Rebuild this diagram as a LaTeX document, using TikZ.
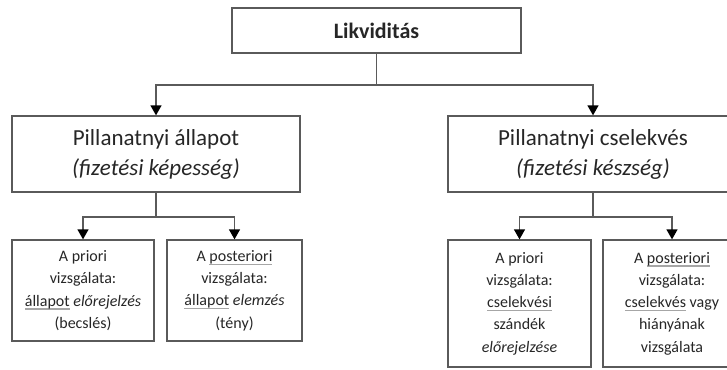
\documentclass[tikz,border=0pt]{standalone}
\usepackage{fontspec}
\setmainfont{Carlito}
\usepackage{xcolor}
\usepackage{tikz}
\usetikzlibrary{arrows.meta}
\definecolor{boxgray}{HTML}{5A5A5A}
\definecolor{textgray}{HTML}{262626}
\newcommand\spellul[1]{\setbox0\hbox{#1}\rlap{\color{black!35}\rule[-3.5pt]{\wd0}{1.1pt}}\box0\relax}

\begin{document}
\begin{tikzpicture}[x=1pt, y=-1pt]
    \tikzset{box/.style={draw=boxgray, line width=1.3pt, text=textgray, align=center, inner sep=0pt}}
    \tikzset{small box/.style={box, font=\fontsize{16}{22.3}\selectfont}}
    \tikzset{conn/.style={draw=boxgray, line width=1.3pt}}
    \tikzset{arr/.style={conn, -{Triangle[width=11pt,length=10pt,black]}}}
    \useasboundingbox (0,0) rectangle (727,369);
    \clip (0,0) rectangle (727,369);
    % Nodes
    \node (likviditas) [box, minimum width=289pt, minimum height=45pt, font=\fontsize{22}{26}\selectfont\bfseries] at (376.5,30.5) {Likviditás};
    \node (allapot) [box, minimum width=288pt, minimum height=76pt, font=\fontsize{23}{30}\selectfont] at (156,154) {Pillanatnyi állapot\\\textit{(fizetési képesség)}};
    \node (cselekves) [box, minimum width=290pt, minimum height=76pt, font=\fontsize{23}{30}\selectfont] at (593,154) {Pillanatnyi cselekvés\\\textit{(fizetési készség)}};

    \node (priori1) [small box, minimum width=142pt, minimum height=101pt] at (83,290.5) {A priori\\vizsgálata:\\\spellul{állapot} \textit{előrejelzés}\\(becslés)};
    \node (post1) [small box, minimum width=135pt, minimum height=101pt] at (234.5,290.5) {A \spellul{posteriori}\\vizsgálata:\\\spellul{állapot} \textit{elemzés}\\(tény)};
    \node (priori2) [small box, minimum width=143pt, minimum height=127pt] at (519.5,303.5) {A priori\\vizsgálata:\\\spellul{cselekvési}\\szándék\\\textit{előrejelzése}};
    \node (post2) [small box, minimum width=138pt, minimum height=127pt] at (672,303.5) {A \spellul{posteriori}\\vizsgálata:\\\spellul{cselekvés} vagy\\hiányának\\vizsgálata};

    \coordinate (split) at (376.5,85);
    \coordinate (splitL) at (156,217);
    \coordinate (splitR) at (593,217);

    % Arrows
    \draw [conn] (likviditas) -- (split);
    \draw [arr] (split) -| (allapot);
    \draw [arr] (split) -| (cselekves);

    \draw [conn] (allapot) -- (splitL);
    \draw [arr] (splitL) -| (priori1);
    \draw [arr] (splitL) -| (post1);

    \draw [conn] (cselekves) -- (splitR);
    \draw [arr] (splitR) -| (priori2);
    \draw [arr] (splitR) -| (post2);
\end{tikzpicture}
\end{document}
